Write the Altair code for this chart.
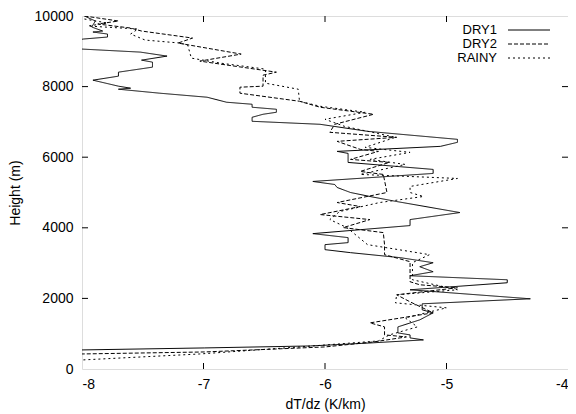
import altair as alt
import pandas as pd

# ---- data (height in m, lapse rate dT/dz in K/km) ----
dry1_h = [10000, 9858, 9688, 9574, 9546, 9489, 9404, 9347, 9150, 9063, 8977, 8864, 8750, 8693,
          8551, 8409, 8296, 8182, 8012, 7955, 7926, 7813, 7699, 7557, 7500, 7415, 7358, 7273,
          7216, 7131, 7017, 6932, 6733, 6506, 6421, 6307, 6165, 6108, 6023, 5852, 5654, 5540,
          5313, 5227, 5142, 5000, 4887, 4744, 4432, 4233, 4063, 3835, 3722, 3580, 3523, 3381,
          3296, 3154, 3011, 2898, 2756, 2642, 2528, 2443, 2244, 1989, 1847, 1676, 1591, 1392,
          1193, 1023, 966, 881, 824, 739, 653, 597, 540, 0]
dry1_v = [-7.98, -7.89, -7.92, -7.83, -7.91, -7.79, -7.79, -7.99, -8.30, -8.00, -7.52, -7.30,
          -7.51, -7.42, -7.42, -7.70, -7.70, -7.91, -7.70, -7.60, -7.70, -7.36, -6.97, -6.81,
          -6.60, -6.60, -6.40, -6.40, -6.51, -6.60, -6.60, -6.04, -5.65, -4.91, -4.91, -5.05,
          -5.90, -5.81, -5.81, -5.81, -5.11, -5.11, -6.10, -5.92, -5.90, -5.79, -5.63, -5.41,
          -4.89, -5.30, -5.30, -6.10, -5.81, -5.81, -6.00, -6.00, -5.79, -5.38, -5.11, -5.22,
          -5.11, -5.30, -4.50, -4.50, -5.30, -4.31, -5.20, -5.20, -5.11, -5.22, -5.40, -5.40,
          -5.30, -5.30, -5.19, -5.62, -6.12, -6.99, -8.00, -10.0]

dry2_h = [10000, 9858, 9773, 9659, 9574, 9375, 9233, 8921, 8722, 8637, 8409, 8324, 8012, 7983,
          7813, 7585, 7415, 7216, 6932, 6705, 6563, 6449, 6222, 6165, 5938, 5852, 5597, 5512,
          5000, 4716, 4602, 4375, 4233, 4006, 3864, 3523, 3239, 3040, 2472, 2386, 2301, 2102,
          1903, 1591, 1307, 1193, 966, 909, 767, 625, 483, 426, 0]
dry2_v = [-7.98, -7.70, -7.87, -7.60, -7.51, -7.09, -7.21, -6.69, -7.03, -6.86, -6.40, -6.51,
          -6.51, -6.70, -6.70, -6.21, -6.04, -5.60, -5.92, -5.96, -5.41, -5.90, -5.71, -5.56,
          -5.79, -5.47, -5.71, -5.52, -5.49, -5.90, -5.71, -6.04, -5.63, -5.85, -5.52, -5.51,
          -5.51, -5.30, -5.30, -5.22, -4.91, -5.41, -5.30, -5.11, -5.63, -5.51, -5.51, -5.33,
          -5.60, -6.00, -6.99, -8.00, -10.5]

rainy_h = [9915, 9801, 9716, 9631, 9489, 9318, 9233, 9176, 8807, 8665, 8495, 8097, 7926, 7585,
           7443, 7273, 7074, 6875, 6563, 6279, 6137, 5938, 5795, 5512, 5398, 5171, 5000, 4887,
           4716, 4460, 4233, 4006, 3523, 3239, 3011, 2528, 2244, 2102, 1875, 1733, 1449, 1193,
           966, 795, 625, 426, 256, 0]
rainy_v = [-7.98, -7.79, -7.95, -7.54, -7.60, -7.48, -7.19, -7.13, -7.10, -6.86, -6.49, -6.49,
           -6.22, -6.21, -6.04, -5.67, -6.00, -5.84, -5.42, -5.67, -5.30, -5.63, -5.34, -5.71,
           -4.91, -5.30, -5.30, -5.19, -5.55, -5.88, -5.96, -5.82, -5.65, -5.14, -5.28, -5.28,
           -4.91, -5.41, -5.42, -5.00, -5.34, -5.24, -5.47, -5.56, -6.21, -7.03, -8.00, -11.0]

series = ["DRY1", "DRY2", "RAINY"]
dashes = [[1, 0], [4, 2], [2, 3]]
x_ticks = [-8, -7, -6, -5, -4]
y_ticks = [0, 2000, 4000, 6000, 8000, 10000]

W, H = 486, 353
FS = 14
LFS = 13

rows = []
for name, hs, vs in [("DRY1", dry1_h, dry1_v), ("DRY2", dry2_h, dry2_v), ("RAINY", rainy_h, rainy_v)]:
    for i, (h, v) in enumerate(zip(hs, vs)):
        rows.append({"series": name, "h": h, "v": v, "idx": i})
df = pd.DataFrame(rows)

font = "Liberation Sans"
xscale = alt.Scale(domain=[-8, -4], nice=False, zero=False)
yscale = alt.Scale(domain=[0, 10000], nice=False, zero=False)
dash_scale = alt.Scale(domain=series, range=dashes)

lines = alt.Chart(df).mark_line(clip=True, color="black", strokeWidth=1).encode(
    x=alt.X("v:Q", scale=xscale,
            axis=alt.Axis(title="dT/dz (K/km)", values=x_ticks, ticks=False, domain=False,
                          grid=False, labelPadding=8, labelFontSize=FS, labelFont=font,
                          labelExpr="'' + datum.value",
                          titleFont=font, titleFontSize=FS, titleFontWeight="normal",
                          titleY=35, titleBaseline="middle", labelColor="black",
                          titleColor="black")),
    y=alt.Y("h:Q", scale=yscale,
            axis=alt.Axis(title="Height (m)", values=y_ticks, ticks=False, domain=False,
                          grid=False, labelPadding=9, labelFontSize=FS, labelFont=font,
                          labelExpr="'' + datum.value",
                          titleFont=font, titleFontSize=FS, titleFontWeight="normal",
                          titleX=-67, titleY=H / 2, titleBaseline="middle",
                          labelColor="black", titleColor="black")),
    strokeDash=alt.StrokeDash("series:N", scale=dash_scale, legend=None),
    order="idx:Q",
    detail="series:N",
)

# inward tick marks on all four sides (gnuplot style)
xt = pd.DataFrame({"t": x_ticks[1:-1]})
yt = pd.DataFrame({"t": y_ticks[1:-1]})
tick_b = alt.Chart(xt).mark_rule(color="black").encode(
    x=alt.X("t:Q", scale=xscale), y=alt.value(H), y2=alt.value(H - 6))
tick_t = alt.Chart(xt).mark_rule(color="black").encode(
    x=alt.X("t:Q", scale=xscale), y=alt.value(0), y2=alt.value(6))
tick_l = alt.Chart(yt).mark_rule(color="black").encode(
    y=alt.Y("t:Q", scale=yscale), x=alt.value(0), x2=alt.value(6))
tick_r = alt.Chart(yt).mark_rule(color="black").encode(
    y=alt.Y("t:Q", scale=yscale), x=alt.value(W), x2=alt.value(W - 6))

# key (label then line sample, as in gnuplot)
leg = pd.DataFrame({"series": series, "ypx": [14, 28, 42]})
leg_text = alt.Chart(leg).mark_text(align="right", baseline="middle", font=font,
                                    fontSize=LFS, color="black").encode(
    x=alt.value(415), y=alt.Y("ypx:Q", scale=None), text="series:N")
leg_line = alt.Chart(leg).mark_rule(color="black", strokeWidth=1).encode(
    x=alt.value(426), x2=alt.value(468), y=alt.Y("ypx:Q", scale=None),
    strokeDash=alt.StrokeDash("series:N", scale=dash_scale, legend=None))

chart = alt.layer(lines, tick_b, tick_t, tick_l, tick_r, leg_text, leg_line).properties(
    width=W, height=H, autosize="none",
    padding={"left": 74, "top": 8, "right": 0, "bottom": 45},
).configure_view(stroke="black", strokeWidth=1).configure(background="white")

chart.save("out.html", embed_options={"renderer": "svg", "actions": False})
